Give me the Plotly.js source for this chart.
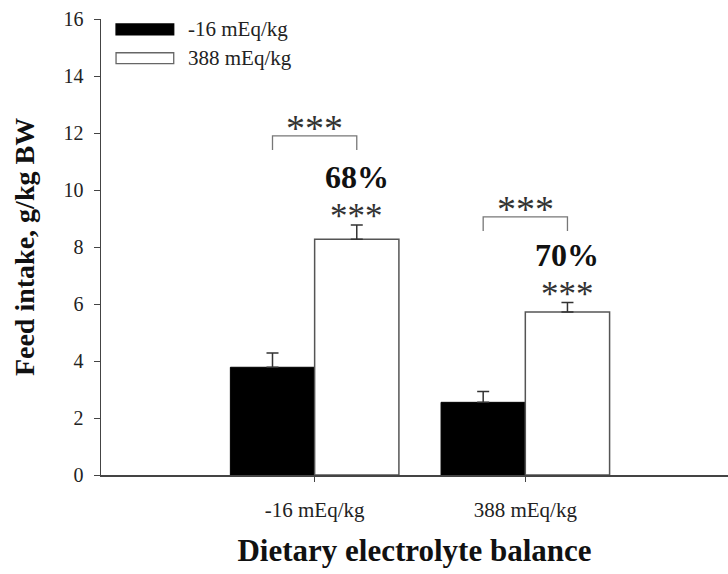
<!DOCTYPE html>
<html>
<head>
<meta charset="utf-8">
<script src="https://cdn.plot.ly/plotly-3.0.1.min.js"></script>
<style>html,body{margin:0;padding:0;background:#fff;}#chart{width:728px;height:574px;}</style>
</head>
<body>
<div id="chart"></div>
<script>
var categories = ["-16 mEq/kg", "388 mEq/kg"];
var seriesNames = ["-16 mEq/kg", "388 mEq/kg"];
var lowValues = [3.78, 2.55];
var lowErrors = [0.5, 0.38];
var highValues = [8.27, 5.72];
var highErrors = [0.5, 0.33];
var pctLabels = ["68%", "70%"];
var bracketTop = [11.9, 9.06];
var yTicks = [0, 2, 4, 6, 8, 10, 12, 14, 16];

var serif = "Liberation Serif, Times New Roman, serif";
var idx = categories.map(function(c, i){ return i; });

var traces = [
  {type: "bar", name: seriesNames[0], x: idx, y: lowValues,
   marker: {color: "#000", line: {color: "#000", width: 1}},
   error_y: {type: "data", array: lowErrors, arrayminus: lowErrors.map(function(){return 0;}), visible: true, color: "#333", thickness: 1.5, width: 6},
   showlegend: false},
  {type: "bar", name: seriesNames[1], x: idx, y: highValues,
   marker: {color: "#fff", line: {color: "#555", width: 1.5}},
   error_y: {type: "data", array: highErrors, arrayminus: highErrors.map(function(){return 0;}), visible: true, color: "#333", thickness: 1.5, width: 6},
   showlegend: false}
];

var shapes = [];
var annotations = [];
var bracketDrop = 0.5;
idx.forEach(function(i){
  var x0 = i - 0.2, x1 = i + 0.2, yt = bracketTop[i];
  shapes.push({type: "path", xref: "x", yref: "y",
    path: "M " + x0 + " " + (yt - bracketDrop) + " L " + x0 + " " + yt + " L " + x1 + " " + yt + " L " + x1 + " " + (yt - bracketDrop),
    line: {color: "#777", width: 1.3}});
  annotations.push({xref: "x", yref: "y", x: i, y: yt, yshift: -15, text: "***", showarrow: false,
    yanchor: "bottom", font: {family: serif, size: 38, color: "#333"}});
  var top = highValues[i] + highErrors[i];
  annotations.push({xref: "x", yref: "y", x: i + 0.2, y: top, yshift: 29, text: "<b>" + pctLabels[i] + "</b>", showarrow: false,
    yanchor: "bottom", borderpad: 0, font: {family: serif, size: 32, color: "#111"}});
  annotations.push({xref: "x", yref: "y", x: i + 0.2, y: top, yshift: 29, text: "***", showarrow: false,
    yanchor: "top", borderpad: 0, font: {family: serif, size: 35, color: "#333"}});
});

// custom legend
var legendY = [0.977, 0.914];
var legendFill = ["#000", "#fff"];
var legendLine = ["#000", "#666"];
seriesNames.forEach(function(n, k){
  shapes.push({type: "rect", xref: "paper", yref: "paper", x0: 0.024, x1: 0.116,
    y0: legendY[k] - 0.012, y1: legendY[k] + 0.012,
    fillcolor: legendFill[k], line: {color: legendLine[k], width: 1.3}});
  annotations.push({xref: "paper", yref: "paper", x: 0.136, y: legendY[k], text: n, showarrow: false,
    xanchor: "left", yanchor: "middle", font: {family: serif, size: 21, color: "#222"}});
});

var layout = {
  width: 728, height: 574,
  margin: {l: 101, r: 0, t: 19, b: 99},
  paper_bgcolor: "#fff", plot_bgcolor: "#fff",
  barmode: "group", bargap: 0.2, bargroupgap: 0,
  showlegend: false,
  font: {family: serif, color: "#222"},
  xaxis: {
    range: [-1.014, 1.962], tickvals: idx, ticktext: categories,
    showgrid: false, zeroline: false, showline: true, linecolor: "#444", linewidth: 1.5,
    ticks: "outside", ticklen: 5, tickcolor: "#444", ticklabelstandoff: 10,
    tickfont: {family: serif, size: 21, color: "#222"},
    title: {text: "<b>Dietary electrolyte balance</b>", font: {family: serif, size: 31, color: "#111"}, standoff: 18}
  },
  yaxis: {
    range: [0, 16], tickvals: yTicks,
    showgrid: false, zeroline: false, showline: true, linecolor: "#444", linewidth: 1.5,
    ticks: "outside", ticklen: 6, tickcolor: "#444", ticklabelstandoff: 6,
    tickfont: {family: serif, size: 20, color: "#222"},
    title: {text: "<b>Feed intake, g/kg BW</b>", font: {family: serif, size: 28, color: "#111"}, standoff: 20}
  },
  shapes: shapes,
  annotations: annotations
};

Plotly.newPlot("chart", traces, layout, {displayModeBar: false, staticPlot: true});
</script>
</body>
</html>
